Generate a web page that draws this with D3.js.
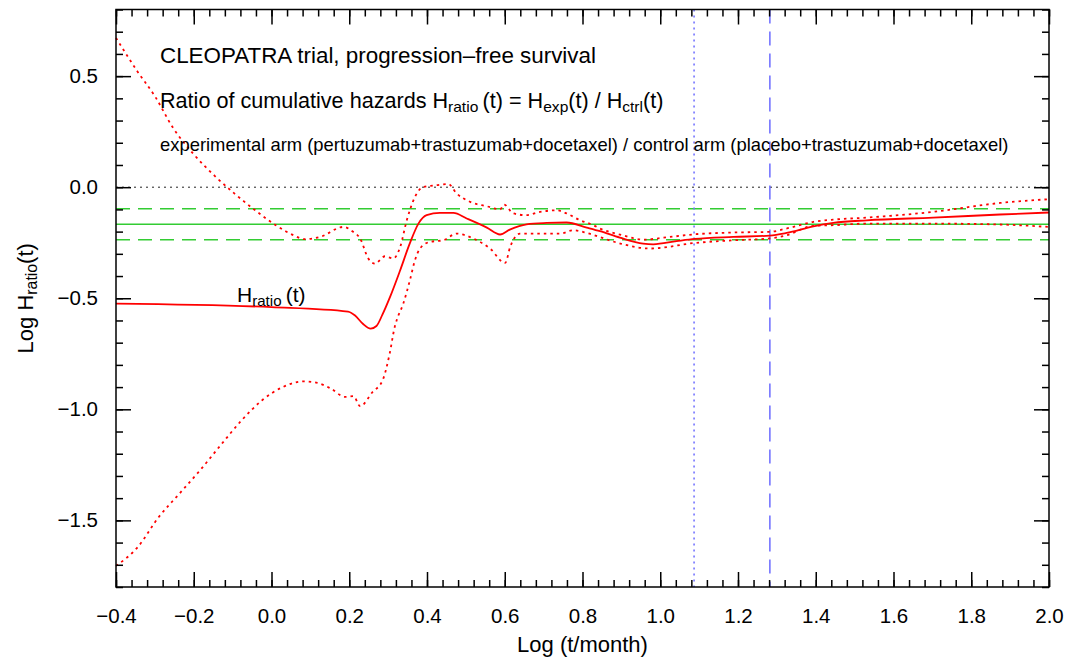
<!DOCTYPE html>
<html>
<head>
<meta charset="utf-8">
<script src="https://cdn.jsdelivr.net/npm/d3@7"></script>
<style>
  body { margin: 0; background: #fff; }
  svg { font-family: "Liberation Sans", Arial, sans-serif; }
</style>
</head>
<body>
<div id="chart"></div>
<script>
const width = 1071;
const height = 659;

// log10(t/month), log10 H_ratio(t)
const ratioCurve = [[-0.4,-0.524],[0.0,-0.540],[0.197,-0.560],[0.215,-0.578],[0.235,-0.615],[0.255,-0.637],[0.270,-0.625],
  [0.285,-0.575],[0.305,-0.494],[0.331,-0.374],[0.356,-0.252],[0.378,-0.164],[0.399,-0.126],[0.433,-0.116],[0.468,-0.116],
  [0.502,-0.141],[0.554,-0.182],[0.588,-0.213],[0.613,-0.191],[0.656,-0.167],[0.708,-0.161],[0.759,-0.159],[0.811,-0.182],
  [0.845,-0.198],[0.896,-0.227],[0.956,-0.254],[0.982,-0.257],[1.042,-0.243],[1.089,-0.233],[1.188,-0.224],[1.282,-0.218],
  [1.325,-0.206],[1.394,-0.176],[1.445,-0.161],[1.531,-0.149],[1.702,-0.137],[1.874,-0.123],[2.0,-0.114]];

const upperBand = [[-0.4,0.672],[-0.344,0.519],[-0.299,0.407],[-0.255,0.272],[-0.202,0.152],[-0.148,0.054],[-0.095,-0.029],
  [-0.042,-0.104],[0.011,-0.171],[0.056,-0.216],[0.085,-0.234],[0.125,-0.224],[0.185,-0.179],[0.210,-0.201],[0.228,-0.231],
  [0.249,-0.321],[0.266,-0.344],[0.292,-0.311],[0.313,-0.321],[0.331,-0.269],[0.348,-0.149],[0.369,-0.044],[0.390,0.001],
  [0.425,0.009],[0.455,0.014],[0.476,-0.028],[0.511,-0.066],[0.554,-0.086],[0.588,-0.100],[0.598,-0.078],[0.622,-0.118],
  [0.656,-0.126],[0.691,-0.111],[0.734,-0.104],[0.759,-0.118],[0.794,-0.149],[0.828,-0.171],[0.845,-0.186],[0.900,-0.215],
  [0.956,-0.236],[1.020,-0.225],[1.089,-0.212],[1.188,-0.204],[1.282,-0.201],[1.325,-0.186],[1.394,-0.156],[1.445,-0.146],
  [1.531,-0.137],[1.702,-0.111],[1.874,-0.071],[2.0,-0.054]];

const lowerBand = [[-0.4,-1.705],[-0.344,-1.620],[-0.290,-1.485],[-0.237,-1.380],[-0.184,-1.275],[-0.131,-1.162],[-0.077,-1.050],
  [-0.024,-0.959],[0.029,-0.900],[0.082,-0.874],[0.118,-0.881],[0.153,-0.907],[0.189,-0.944],[0.211,-0.941],[0.228,-0.986],
  [0.260,-0.922],[0.286,-0.869],[0.304,-0.749],[0.317,-0.629],[0.322,-0.599],[0.339,-0.524],[0.356,-0.419],[0.369,-0.329],
  [0.382,-0.276],[0.408,-0.246],[0.442,-0.239],[0.476,-0.209],[0.519,-0.231],[0.562,-0.276],[0.601,-0.341],[0.614,-0.269],
  [0.639,-0.209],[0.691,-0.209],[0.742,-0.209],[0.776,-0.194],[0.811,-0.206],[0.845,-0.225],[0.900,-0.255],[0.974,-0.276],
  [1.089,-0.251],[1.188,-0.239],[1.282,-0.231],[1.325,-0.216],[1.394,-0.174],[1.445,-0.171],[1.531,-0.164],[1.702,-0.164],
  [1.874,-0.168],[2.0,-0.179]];

// overall hazard ratio and its CI (log10), medians (log10 months)
const hrLevels = [-0.167, -0.097, -0.237];
const medians = [1.087, 1.282];

const xTicks = d3.range(-0.4, 2.0001, 0.2);
const xMinor = d3.range(-0.4, 2.0001, 0.04);
const yTicks = [-1.5, -1.0, -0.5, 0.0, 0.5];
const yMinor = d3.range(-1.8, 0.8001, 0.1);

const x = d3.scaleLinear().domain([-0.4, 2.0]).range([116, 1049]);
const y = d3.scaleLinear().domain([-1.8, 0.8]).range([587, 9.5]);

const svg = d3.select('#chart').append('svg').attr('width', width).attr('height', height);

const [x0, x1] = x.range();
const [y0, y1] = y.range();

// reference lines
svg.append('line').attr('x1', x0).attr('x2', x1).attr('y1', y(0)).attr('y2', y(0))
  .attr('stroke', '#222').attr('stroke-width', 1).attr('stroke-dasharray', '2,4');

svg.selectAll('line.hr')
  .data(hrLevels)
  .join('line')
  .attr('class', 'hr')
  .attr('x1', x0).attr('x2', x1)
  .attr('y1', d => y(d)).attr('y2', d => y(d))
  .attr('stroke', '#33cc33')
  .attr('stroke-width', 1.5)
  .attr('stroke-dasharray', (d, i) => i === 0 ? null : '14,8');

svg.selectAll('line.med')
  .data(medians)
  .join('line')
  .attr('class', 'med')
  .attr('x1', d => x(d)).attr('x2', d => x(d))
  .attr('y1', y1).attr('y2', y0)
  .attr('stroke', '#6b6bff')
  .attr('stroke-width', 1.5)
  .attr('stroke-dasharray', (d, i) => i === 0 ? '2,4' : '14,8');

// curves
const line = d3.line().x(d => x(d[0])).y(d => y(d[1])).curve(d3.curveMonotoneX);

svg.append('path').datum(upperBand).attr('d', line)
  .attr('fill', 'none').attr('stroke', '#ff0000').attr('stroke-width', 1.8).attr('stroke-dasharray', '2.5,4');
svg.append('path').datum(lowerBand).attr('d', line)
  .attr('fill', 'none').attr('stroke', '#ff0000').attr('stroke-width', 1.8).attr('stroke-dasharray', '2.5,4');
svg.append('path').datum(ratioCurve).attr('d', line)
  .attr('fill', 'none').attr('stroke', '#ff0000').attr('stroke-width', 1.8);

// axes, ticks pointing inward on all four sides
function styleAxis(g) {
  g.select('.domain').remove();
  g.selectAll('line').attr('stroke', '#000').attr('stroke-width', 1.5);
  g.selectAll('text').attr('font-size', 20.5).attr('fill', '#000');
}

svg.append('g').attr('transform', `translate(0,${y0})`)
  .call(d3.axisBottom(x).tickValues(xMinor).tickSize(-7).tickFormat(''))
  .call(styleAxis);
svg.append('g').attr('transform', `translate(0,${y0})`)
  .call(d3.axisBottom(x).tickValues(xTicks).tickSize(-15).tickPadding(21).tickFormat(d3.format('.1f')))
  .call(styleAxis);
svg.append('g').attr('transform', `translate(0,${y1})`)
  .call(d3.axisTop(x).tickValues(xMinor).tickSize(-7).tickFormat(''))
  .call(styleAxis);
svg.append('g').attr('transform', `translate(0,${y1})`)
  .call(d3.axisTop(x).tickValues(xTicks).tickSize(-15).tickFormat(''))
  .call(styleAxis);

svg.append('g').attr('transform', `translate(${x0},0)`)
  .call(d3.axisLeft(y).tickValues(yMinor).tickSize(-7).tickFormat(''))
  .call(styleAxis);
svg.append('g').attr('transform', `translate(${x0},0)`)
  .call(d3.axisLeft(y).tickValues(yTicks).tickSize(-15).tickPadding(18).tickFormat(d3.format('.1f')))
  .call(styleAxis);
svg.append('g').attr('transform', `translate(${x1},0)`)
  .call(d3.axisRight(y).tickValues(yMinor).tickSize(-7).tickFormat(''))
  .call(styleAxis);
svg.append('g').attr('transform', `translate(${x1},0)`)
  .call(d3.axisRight(y).tickValues(yTicks).tickSize(-15).tickFormat(''))
  .call(styleAxis);

// frame
svg.append('rect').attr('x', x0).attr('y', y1).attr('width', x1 - x0).attr('height', y0 - y1)
  .attr('fill', 'none').attr('stroke', '#000').attr('stroke-width', 1.5);

// text with subscripts: parts are [string, isSub]
function richText(parent, px, py, size, parts) {
  const t = parent.append('text').attr('x', px).attr('y', py).attr('font-size', size).attr('fill', '#000');
  let shift = 0;
  parts.forEach(([s, sub]) => {
    const target = sub ? size * 0.2 : 0;
    t.append('tspan')
      .attr('font-size', sub ? size * 0.72 : size)
      .attr('dy', target - shift)
      .text(s);
    shift = target;
  });
  return t;
}

svg.append('text').attr('x', 160).attr('y', 63).attr('font-size', 22.4)
  .text('CLEOPATRA trial, progression\u2013free survival');

richText(svg, 160, 108, 21.6, [['Ratio of cumulative hazards H'], ['ratio', true], ['\u2009(t) = H'], ['exp', true],
  ['(t) / H'], ['ctrl', true], ['(t)']]);

svg.append('text').attr('x', 160).attr('y', 151).attr('font-size', 18.4)
  .text('experimental arm (pertuzumab+trastuzumab+docetaxel) / control arm (placebo+trastuzumab+docetaxel)');

richText(svg, 237, 302, 21, [['H'], ['ratio', true], ['\u2009(t)']]);

// axis titles
svg.append('text').attr('x', (x0 + x1) / 2).attr('y', 652).attr('text-anchor', 'middle').attr('font-size', 22)
  .text('Log (t/month)');
richText(svg, 0, 0, 22, [['Log H'], ['ratio', true], ['(t)']])
  .attr('text-anchor', 'middle')
  .attr('transform', `translate(33,${(y0 + y1) / 2}) rotate(-90)`);
</script>
</body>
</html>
